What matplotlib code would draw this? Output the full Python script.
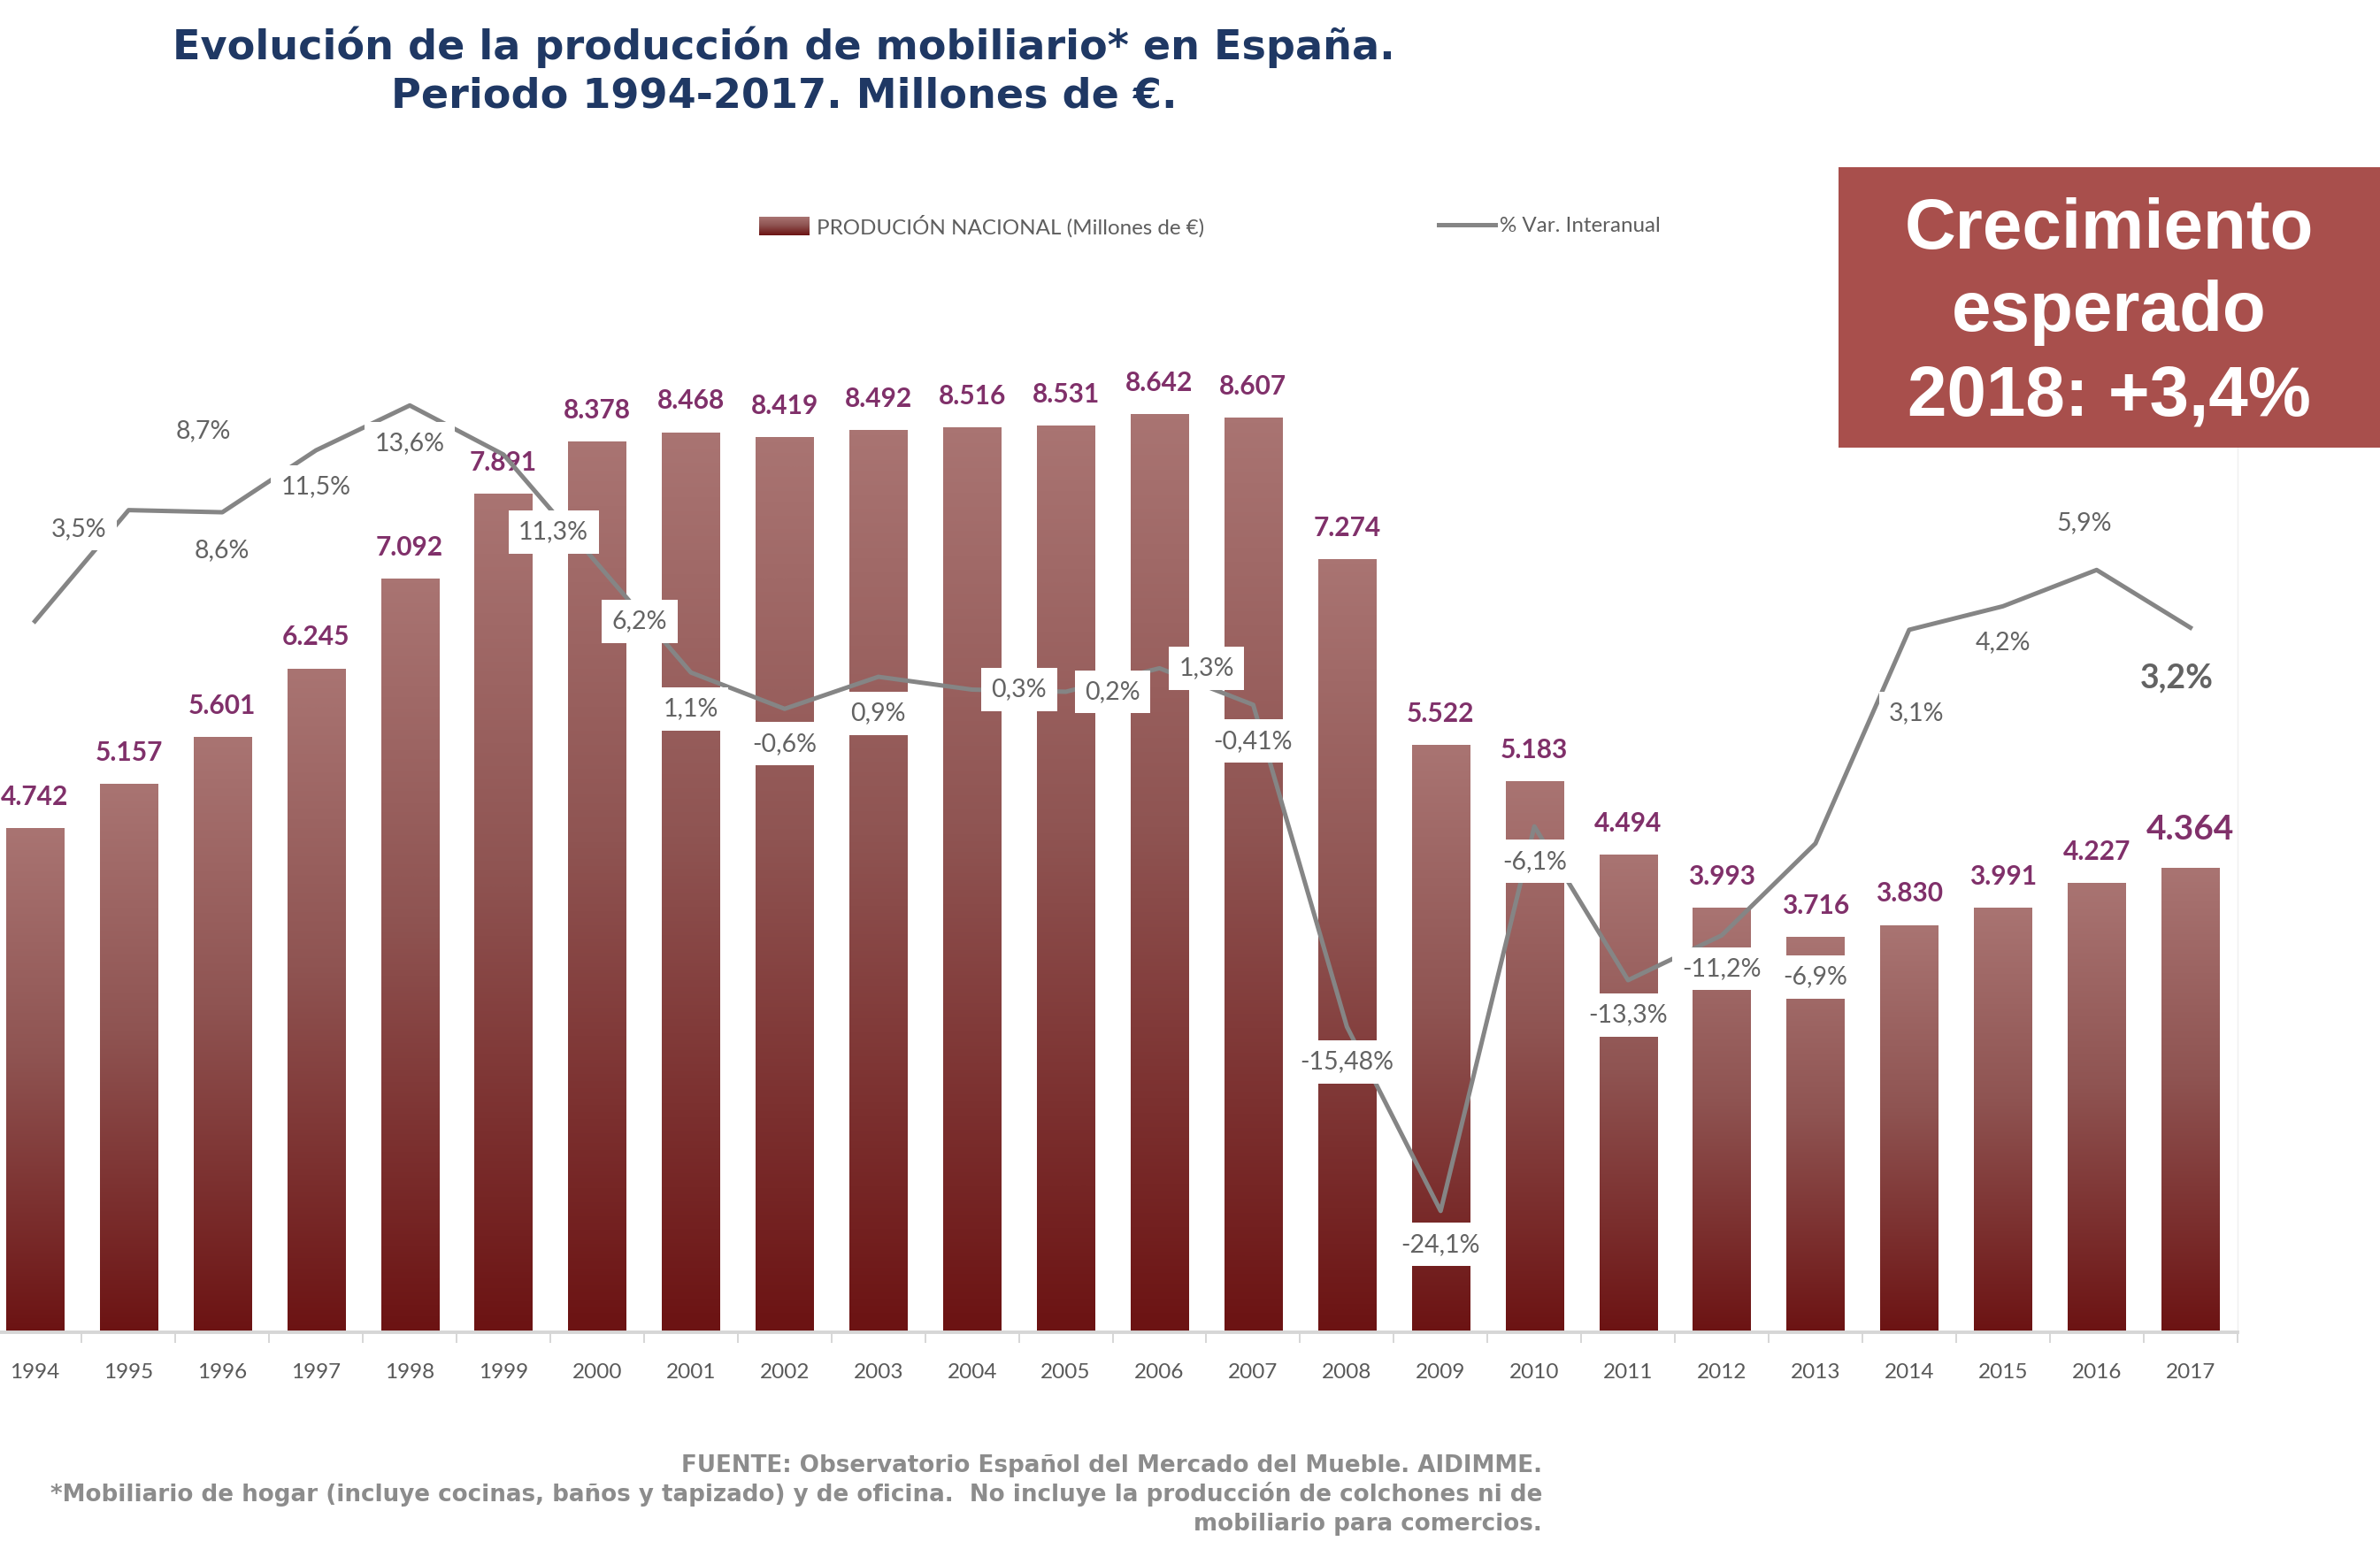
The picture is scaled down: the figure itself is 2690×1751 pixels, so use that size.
import numpy as np
import matplotlib
matplotlib.use('Agg')
import matplotlib.pyplot as plt
from matplotlib.colors import LinearSegmentedColormap
from matplotlib.patches import Rectangle
from matplotlib.lines import Line2D

# Datos
years = [str(y) for y in range(1994, 2018)]
produccion = [4742, 5157, 5601, 6245, 7092, 7891, 8378, 8468, 8419, 8492, 8516, 8531,
              8642, 8607, 7274, 5522, 5183, 4494, 3993, 3716, 3830, 3991, 4227, 4364]
var_interanual = [3.5, 8.7, 8.6, 11.5, 13.6, 11.3, 6.2, 1.1, -0.6, 0.9, 0.3, 0.2,
                  1.3, -0.41, -15.48, -24.1, -6.1, -13.3, -11.2, -6.9, 3.1, 4.2, 5.9, 3.2]
var_labels = ['3,5%', '8,7%', '8,6%', '11,5%', '13,6%', '11,3%', '6,2%', '1,1%', '-0,6%',
              '0,9%', '0,3%', '0,2%', '1,3%', '-0,41%', '-15,48%', '-24,1%', '-6,1%',
              '-13,3%', '-11,2%', '-6,9%', '3,1%', '4,2%', '5,9%', '3,2%']

# desplazamiento de las etiquetas de % (px de la imagen original a 1568 de ancho)
var_offsets = [(29, -61), (49, -52), (0, 25), (0, 24), (0, 25), (33, 51), (28, 38),
               (0, 24), (0, 23), (0, 24), (31, 0), (31, 0), (31, 0), (0, 24), (0, 23),
               (0, 22), (0, 23), (0, 23), (0, 22), (0, 88), (5, 55), (0, 24), (-8, -31),
               (-9, 33)]

W, H = 2690, 1751
K = W / 1568 * 72 / 100  # px de referencia -> puntos


def fx(px):
    return px / W


def fy(px):
    return 1 - px / H


def fit_width(txt, target_px):
    r = fig.canvas.get_renderer()
    w = txt.get_window_extent(r).width
    txt.set_fontsize(txt.get_fontsize() * target_px / w)
    return txt.get_fontsize()


bar_cmap = LinearSegmentedColormap.from_list(
    'granate', [(0, '#6c1313'), (0.55, '#8f5452'), (1, '#a97472')])
grad = np.linspace(0, 1, 256).reshape(-1, 1)

fig = plt.figure(figsize=(W / 100, H / 100), dpi=100)
fig.patch.set_facecolor('white')

ax = fig.add_axes([fx(-13.5), fy(1506.3), fx(2542.1), 1200.9 / H])

bar_w = 0.615
for i, v in enumerate(produccion):
    ax.imshow(grad, extent=(i - bar_w / 2, i + bar_w / 2, 0, v), origin='lower',
              aspect='auto', cmap=bar_cmap, interpolation='bicubic', zorder=2)

for i, v in enumerate(produccion):
    last = i == len(produccion) - 1
    ax.annotate(f'{v:,}'.replace(',', '.'), (i, v),
                xytext=(0, 32 if last else 25.9), textcoords='offset points',
                ha='center', va='center', fontsize=28 if last else 21.5,
                fontweight='bold', color='#80306a', family='Lato', zorder=4)

ax.set_xlim(-0.5, 23.5)
ax.set_ylim(0, 10000)
ax.set_yticks([])
ax.set_xticks(range(len(years)))
ax.set_xticklabels(years, fontsize=17.5, color='#595959', family='Lato')
ax.tick_params(axis='x', which='major', length=0, pad=25)
ax.set_xticks(np.arange(-0.5, len(years)), minor=True)
ax.tick_params(axis='x', which='minor', length=8.6, width=1.2, color='#d0d0d0')
for s in ['top', 'left']:
    ax.spines[s].set_visible(False)
ax.spines['bottom'].set_color('#d6d6d6')
ax.spines['bottom'].set_linewidth(2.8)
ax.spines['right'].set_color('#efefef')
ax.spines['right'].set_linewidth(1)

ax2 = ax.twinx()
ax2.set_ylim(-29.79, 19.93)
ax2.axis('off')
ax2.plot(range(len(years)), var_interanual, color='#858585', lw=3.6, zorder=3,
         solid_joinstyle='round')

for i, (v, lab, (dx, dy)) in enumerate(zip(var_interanual, var_labels, var_offsets)):
    last = i == len(var_interanual) - 1
    ax2.annotate(lab, (i, v), xytext=(dx * K, -dy * K), textcoords='offset points',
                 ha='center', va='center', fontsize=27 if last else 20.5,
                 fontweight='bold' if last else 'normal',
                 color='#636363', family='Lato', zorder=5,
                 bbox=dict(boxstyle='square,pad=0.4', fc='white', ec='none'))

# Título
t1 = fig.text(fx(886), fy(67), 'Evolución de la producción de mobiliario* en España.',
              ha='center', va='baseline', fontsize=32, fontweight='bold',
              color='#1f3864', family='DejaVu Sans')
size = fit_width(t1, 1384)
fig.text(fx(886), fy(122), 'Periodo 1994-2017. Millones de €.', ha='center',
         va='baseline', fontsize=size, fontweight='bold', color='#1f3864',
         family='DejaVu Sans')

# Leyenda
lax = fig.add_axes([fx(858), fy(266), fx(56), 21 / H])
lax.imshow(grad, origin='lower', aspect='auto', cmap=bar_cmap, extent=(0, 1, 0, 1))
lax.axis('off')
lt = fig.text(fx(923), fy(256), 'PRODUCIÓN NACIONAL (Millones de €)', ha='left',
              va='center', fontsize=17.5, color='#5e5e5e', family='Lato')
lsize = fit_width(lt, 436)
fig.add_artist(Line2D([fx(1626), fx(1690)], [fy(254), fy(254)],
                      transform=fig.transFigure, color='#858585', lw=3.6))
fig.text(fx(1695), fy(256), '% Var. Interanual', ha='left', va='center',
         fontsize=lsize, color='#5e5e5e', family='Lato')

# Recuadro de crecimiento esperado
fig.add_artist(Rectangle((fx(2078), fy(506)), 1 - fx(2078), (506 - 189) / H,
                         transform=fig.transFigure, fc='#a84f4c', ec='none', zorder=5))
b1 = fig.text(fx(2384), fy(281), 'Crecimiento', ha='center', va='baseline',
              fontsize=58, fontweight='bold', color='white',
              family='Liberation Sans', zorder=6)
bsize = fit_width(b1, 462)
for txt, yb in [('esperado', 374), ('2018: +3,4%', 470)]:
    fig.text(fx(2384), fy(yb), txt, ha='center', va='baseline', fontsize=bsize,
             fontweight='bold', color='white', family='Liberation Sans', zorder=6)

# Fuente
f2 = fig.text(fx(1743), fy(1697),
              '*Mobiliario de hogar (incluye cocinas, baños y tapizado) y de oficina.  '
              'No incluye la producción de colchones ni de',
              ha='right', va='baseline', fontsize=18, fontweight='bold',
              color='#8c8c8c', family='DejaVu Sans')
fsize = fit_width(f2, 1683)
fig.text(fx(1743), fy(1664), 'FUENTE: Observatorio Español del Mercado del Mueble. AIDIMME.',
         ha='right', va='baseline', fontsize=fsize, fontweight='bold',
         color='#8c8c8c', family='DejaVu Sans')
fig.text(fx(1743), fy(1730), 'mobiliario para comercios.', ha='right', va='baseline',
         fontsize=fsize, fontweight='bold', color='#8c8c8c', family='DejaVu Sans')

fig.savefig('out.png', dpi=100, facecolor='white')
